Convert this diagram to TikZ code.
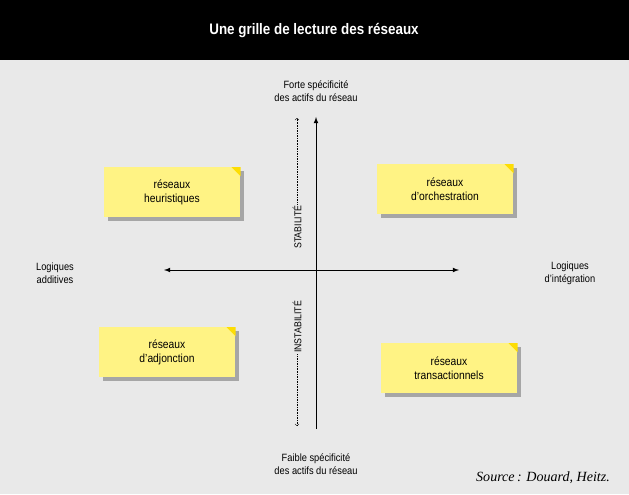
\documentclass[tikz,border=0pt]{standalone}
\usepackage{fontspec}
\setmainfont{Liberation Sans}[FakeStretch=0.88]
\newfontfamily\srcfont{Liberation Serif}
\begin{document}
\begin{tikzpicture}[x=0.3mm,y=-0.3mm,
% common options for the notes:
note/.style = {fill=yellow!45!white!95!orange, minimum width=41mm, minimum height=14.8mm,
            align=center, font=\fontsize{10}{12}\selectfont, inner sep=0},
% common options for the axis labels:
axlabel/.style = {align=center, font=\fontsize{9}{11}\selectfont},
vlabel/.style = {rotate=90, font=\fontsize{8.5}{10}\selectfont, fill=gray!17, inner sep=1pt}]
\fill[gray!17] (0,0) rectangle (629,494);
\fill[black] (0,0) rectangle (629,60);
\node[text=white, font=\bfseries\fontsize{13}{15}\selectfont] (title) at (314,31) {Une grille de lecture des réseaux};
% notes
\foreach \name/\x/\y/\txt in {heur/172/192/{réseaux\\heuristiques}, orch/445/189/{réseaux\\d'orchestration},
    adjo/167/352/{réseaux\\d'adjonction}, tran/449/368/{réseaux\\transactionnels}} {
  \fill[gray!70] (\x-64,\y-21) rectangle (\x+72,\y+29);
  \node[note] (\name) at (\x,\y) {\txt};
  \fill[yellow!80!orange] (\name.north east) ++(-9,0) -- ++(9,0) -- ++(0,9) -- cycle;
}
% axes
\node[axlabel] (top) at (316,91) {Forte spécificité\\des actifs du réseau};
\node[axlabel] (bot) at (316,464) {Faible spécificité\\des actifs du réseau};
\node[axlabel] (left) at (55,273) {Logiques\\additives};
\node[axlabel] (right) at (570,273) {Logiques\\d'intégration};
\coordinate (n) at (316,117); \coordinate (s) at (316,429);
\coordinate (w) at (164,270); \coordinate (e) at (459,270);
\draw[thick, -latex] (s) -- (n);
\draw[thick, latex-latex] (w) -- (e);
\node[vlabel] (stab) at (297,227) {STABILITÉ};
\node[vlabel] (instab) at (297,327) {INSTABILITÉ};
\coordinate (stabtop) at (297,118); \coordinate (instabbot) at (297,426);
\draw[densely dotted, ->] (stab.east) -- (stabtop);
\draw[densely dotted, ->] (instab.west) -- (instabbot);
\node[anchor=east, font=\srcfont\itshape\fontsize{12}{14}\selectfont] (src) at (614,478) {Source\,: Douard, Heitz.};
\end{tikzpicture}
\end{document}
